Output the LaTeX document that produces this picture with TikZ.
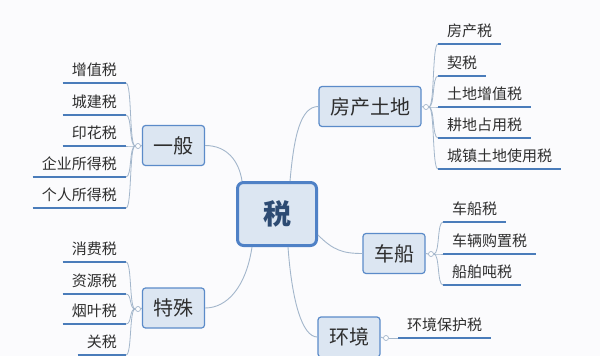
\documentclass[tikz,border=0pt]{standalone}
\usepackage{fontspec}
\setmainfont{Noto Sans CJK SC}
\usetikzlibrary{calc}
\definecolor{boxfill}{HTML}{DCE6F2}
\definecolor{boxline}{HTML}{5B8BC9}
\definecolor{rootline}{HTML}{4F81C6}
\definecolor{leafline}{HTML}{4A7CBA}
\definecolor{conn}{HTML}{A3B6CB}
\definecolor{txt}{HTML}{2E2E2E}
\definecolor{roottxt}{HTML}{2D4B73}
\definecolor{bg}{HTML}{FBFBFD}
\begin{document}
\begin{tikzpicture}[x=1pt,y=-1pt,
  rootbox/.style={draw=rootline, line width=3pt, fill=boxfill, rounded corners=6pt, minimum width=79pt, minimum height=63pt, font=\fontsize{28}{30}\selectfont\bfseries, text=roottxt},
  mainbox/.style={draw=boxline, line width=1.2pt, fill=boxfill, rounded corners=3pt, minimum height=40pt, inner xsep=11pt, font=\fontsize{20}{22}\selectfont, text=txt},
  leafL/.style={anchor=south east, inner xsep=9pt, inner ysep=7pt, text depth=0pt, font=\fontsize{15}{17}\selectfont, text=txt},
  leafR/.style={anchor=south west, inner xsep=9pt, inner ysep=7pt, text depth=0pt, font=\fontsize{15}{17}\selectfont, text=txt},
  uline/.style={draw=leafline, line width=1.8pt},
  brace/.style={draw=conn, line width=0.8pt},
  knob/.style={circle, draw=conn, fill=white, inner sep=0pt, minimum size=5pt, line width=0.7pt},
  link/.style={draw=conn, line width=0.9pt}
]
\useasboundingbox[fill=bg] (0,0) rectangle (600,356);

% main nodes
\node[rootbox] (root) at (277,214) {税};
\node[mainbox] (g) at (173.5,145.5) {一般};
\node[mainbox] (s) at (173.5,308) {特殊};
\node[mainbox] (f) at (370,106.5) {房产土地};
\node[mainbox] (c) at (394,253.5) {车船};
\node[mainbox] (h) at (349,337) {环境};

% knobs
\node[knob] (kg) at (138,146) {};
\node[knob] (ks) at (138,309) {};
\node[knob] (kf) at (426,107) {};
\node[knob] (kc) at (431,254) {};
\node[knob] (kh) at (386,338) {};
\draw[link] (g.west) -- (kg.east);
\draw[link] (s.west) -- (ks.east);
\draw[link] (f.east) -- (kf.west);
\draw[link] (c.east) -- (kc.west);
\draw[link] (h.east) -- (kh.west);

% root links
\draw[link] (g.east) .. controls +(22,0) and +(-3,-20) .. ($(root.north west)+(6,0)$);
\draw[link] ($(root.north)+(13,0)$) .. controls +(4,-45) and +(-18,0) .. (f.west);
\draw[link] ($(root.east)+(0,21)$) .. controls +(15,15) and +(-20,0) .. (c.west);
\draw[link] ($(root.south)+(-25,0)$) .. controls +(-6,40) and +(22,0) .. (s.east);
\draw[link] ($(root.south)+(11,0)$) .. controls +(4,55) and +(-15,0) .. (h.west);

% leaves: 一般
\node[leafL] (g1) at (126,83) {增值税};
\node[leafL] (g2) at (126,115) {城建税};
\node[leafL] (g3) at (126,146) {印花税};
\node[leafL] (g4) at (126,177) {企业所得税};
\node[leafL] (g5) at (126,208) {个人所得税};
\foreach \n in {g1,g2,g3,g4,g5}{
  \draw[uline] (\n.south west) -- (\n.south east);
  \draw[brace] (kg.west) .. controls +(-6,0) and +(6,0) .. (\n.south east);
}
% leaves: 特殊
\node[leafL] (s1) at (126,262) {消费税};
\node[leafL] (s2) at (126,294) {资源税};
\node[leafL] (s3) at (126,324) {烟叶税};
\node[leafL] (s4) at (126,355) {关税};
\foreach \n in {s1,s2,s3,s4}{
  \draw[uline] (\n.south west) -- (\n.south east);
  \draw[brace] (ks.west) .. controls +(-6,0) and +(6,0) .. (\n.south east);
}
% leaves: 房产土地
\node[leafR] (f1) at (438,44) {房产税};
\node[leafR] (f2) at (438,76) {契税};
\node[leafR] (f3) at (438,107) {土地增值税};
\node[leafR] (f4) at (438,138) {耕地占用税};
\node[leafR] (f5) at (438,169) {城镇土地使用税};
\foreach \n in {f1,f2,f3,f4,f5}{
  \draw[uline] (\n.south west) -- (\n.south east);
  \draw[brace] (kf.east) .. controls +(6,0) and +(-6,0) .. (\n.south west);
}
% leaves: 车船
\node[leafR] (c1) at (443,222) {车船税};
\node[leafR] (c2) at (443,254) {车辆购置税};
\node[leafR] (c3) at (443,285) {船舶吨税};
\foreach \n in {c1,c2,c3}{
  \draw[uline] (\n.south west) -- (\n.south east);
  \draw[brace] (kc.east) .. controls +(6,0) and +(-6,0) .. (\n.south west);
}
% leaves: 环境
\node[leafR] (h1) at (398,338) {环境保护税};
\draw[uline] (h1.south west) -- (h1.south east);
\draw[brace] (kh.east) -- (h1.south west);
\end{tikzpicture}
\end{document}
